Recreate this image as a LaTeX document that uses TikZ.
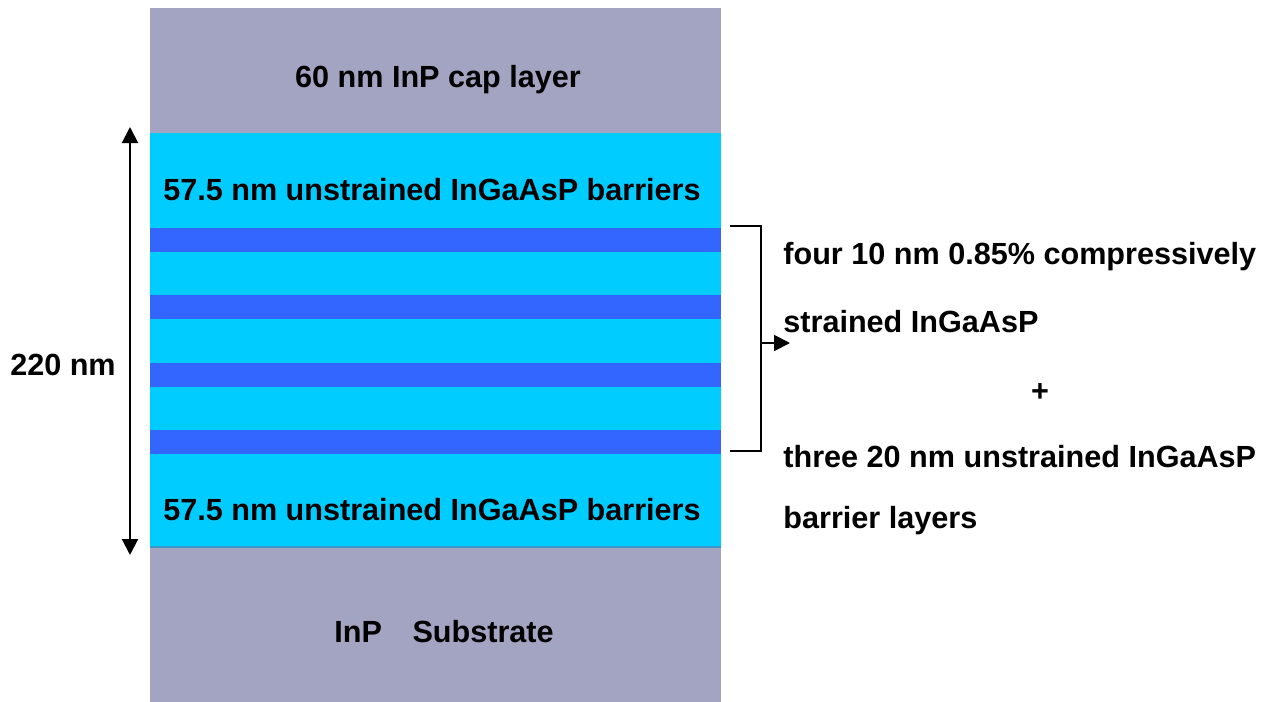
\documentclass[tikz,border=0pt]{standalone}
\usepackage{fontspec}
\setmainfont{Liberation Sans}
\usetikzlibrary{arrows.meta}
\definecolor{capgray}{RGB}{163,163,194}
\definecolor{barrierblue}{RGB}{0,204,255}
\definecolor{wellblue}{RGB}{51,102,255}
\definecolor{edgeblue}{RGB}{60,150,200}
\begin{document}
\begin{tikzpicture}[x=0.5pt, y=-0.5pt, line join=miter]
\tikzset{
    layertext/.style={font=\bfseries\fontsize{15.3}{18}\selectfont, inner sep=0pt},
    dimline/.style={draw=black, line width=1pt},
    tip/.style={-{Triangle[length=8pt, width=8pt]}}
}
\useasboundingbox (0,0) rectangle (1276,702);
% layer stack
\fill[capgray] (150,8) rectangle (721,133);
\fill[barrierblue] (150,133) rectangle (721,547);
\foreach \y in {228,295,363,430}
    \fill[wellblue] (150,\y) rectangle (721,\y+24);
\fill[capgray] (150,547) rectangle (721,702);
\draw[edgeblue, line width=0.8pt] (150,547) -- (721,547);
% layer labels
\node[layertext] (cap) at (438,80) {60 nm InP cap layer};
\node[layertext] (topbar) at (432,190) {57.5 nm unstrained InGaAsP barriers};
\node[layertext] (botbar) at (432,510) {57.5 nm unstrained InGaAsP barriers};
\node[layertext] (subs) at (444,632) {InP\quad Substrate};
% total thickness
\coordinate (dimtop) at (130,127);
\coordinate (dimbot) at (130,555);
\draw[dimline, {Triangle[length=8pt, width=8pt]}-{Triangle[length=8pt, width=8pt]}] (dimtop) -- (dimbot);
\node[layertext] (total) at (63,365) {220 nm};
% bracket on the wells
\coordinate (brtop) at (730,226);
\coordinate (brbot) at (730,451);
\coordinate (brmid) at (761,343);
\coordinate (brtip) at (790,343);
\draw[dimline] (brtop) -- (brtop -| brmid) -- (brbot -| brmid) -- (brbot);
\draw[dimline, tip] (brmid) -- (brtip);
\node[layertext, anchor=west] (mqw1) at (783,257) {four 10 nm 0.85\% compressively};
\node[layertext, anchor=west] (mqw2) at (783,322) {strained InGaAsP};
\node[layertext] (plus) at (1040,393) {+};
\node[layertext, anchor=west] (mqw3) at (783,457) {three 20 nm unstrained InGaAsP};
\node[layertext, anchor=west] (mqw4) at (783,521) {barrier layers};
\end{tikzpicture}
\end{document}
